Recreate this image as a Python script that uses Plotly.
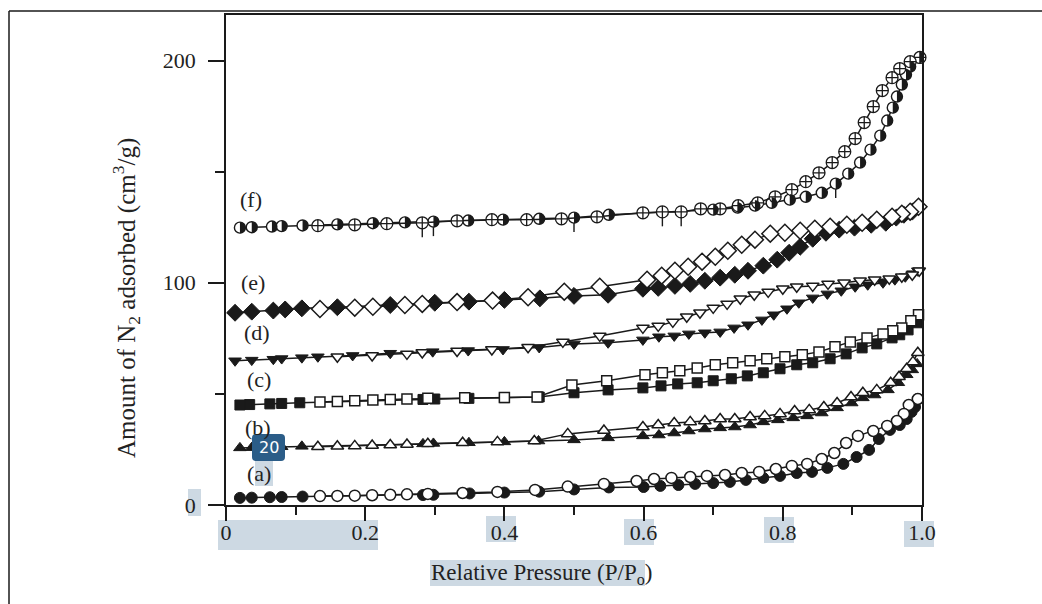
import plotly.graph_objects as go

# ---------------- data ----------------
a_ads_x = [0.02, 0.037, 0.063, 0.08, 0.11, 0.283, 0.298, 0.35, 0.40, 0.45, 0.50, 0.55, 0.60, 0.624, 0.65, 0.674, 0.70, 0.724, 0.747, 0.772, 0.796, 0.82, 0.842, 0.864, 0.887, 0.906, 0.924, 0.938, 0.954, 0.968, 0.978, 0.985, 0.99, 0.994]
a_ads_y = [3.2, 3.3, 3.5, 3.6, 3.8, 4.5, 4.6, 5.2, 5.6, 6.0, 7.0, 7.9, 8.1, 8.6, 9.0, 9.5, 9.9, 10.4, 11.3, 12.2, 13.1, 14.4, 14.9, 16.7, 18.5, 21.6, 24.8, 29.7, 33.8, 36.0, 38.7, 41.9, 44.1, 47.7]
a_des_x = [0.994, 0.981, 0.974, 0.964, 0.95, 0.93, 0.908, 0.891, 0.874, 0.856, 0.835, 0.813, 0.79, 0.766, 0.741, 0.717, 0.691, 0.667, 0.64, 0.615, 0.59, 0.543, 0.491, 0.444, 0.39, 0.34, 0.29, 0.26, 0.236, 0.21, 0.185, 0.16, 0.135]
a_des_y = [47.7, 45.0, 41.0, 37.8, 35.6, 33.3, 31.1, 27.9, 23.4, 20.7, 18.5, 17.6, 16.2, 14.9, 14.4, 13.5, 13.1, 12.6, 12.2, 11.7, 10.8, 9.5, 8.3, 6.8, 5.9, 5.4, 5.0, 4.8, 4.6, 4.4, 4.2, 4.1, 4.0]

b_ads_x = [0.02, 0.037, 0.063, 0.08, 0.109, 0.283, 0.298, 0.349, 0.40, 0.449, 0.50, 0.549, 0.599, 0.622, 0.644, 0.665, 0.688, 0.71, 0.731, 0.753, 0.772, 0.793, 0.815, 0.835, 0.856, 0.878, 0.899, 0.915, 0.932, 0.951, 0.966, 0.978, 0.986, 0.993]
b_ads_y = [25.7, 25.8, 26.0, 26.2, 26.4, 27.5, 27.7, 28.0, 28.4, 28.8, 29.3, 30.2, 31.1, 31.5, 32.4, 33.3, 34.2, 34.7, 35.1, 36.0, 37.4, 38.3, 39.2, 40.1, 41.4, 43.7, 45.9, 48.2, 49.5, 51.8, 55.0, 58.6, 60.8, 63.5]
b_des_x = [0.994, 0.987, 0.978, 0.967, 0.955, 0.935, 0.915, 0.898, 0.878, 0.859, 0.838, 0.817, 0.796, 0.774, 0.753, 0.731, 0.71, 0.688, 0.667, 0.644, 0.621, 0.599, 0.543, 0.491, 0.443, 0.39, 0.34, 0.29, 0.26, 0.236, 0.21, 0.185, 0.16, 0.132]
b_des_y = [68.5, 64.4, 61.3, 57.7, 55.0, 51.8, 50.5, 48.6, 45.9, 44.1, 42.8, 42.3, 41.0, 40.1, 39.6, 38.7, 38.7, 37.8, 37.4, 36.9, 36.0, 35.1, 33.5, 32.0, 28.8, 28.4, 28.0, 27.6, 27.2, 27.0, 26.8, 26.6, 26.4, 26.2]

c_ads_x = [0.02, 0.034, 0.063, 0.08, 0.106, 0.283, 0.30, 0.349, 0.40, 0.45, 0.50, 0.549, 0.599, 0.625, 0.649, 0.677, 0.70, 0.726, 0.749, 0.772, 0.796, 0.82, 0.843, 0.868, 0.891, 0.914, 0.935, 0.957, 0.968, 0.98, 0.993]
c_ads_y = [45.0, 45.2, 45.5, 45.7, 46.0, 47.5, 47.7, 48.0, 48.3, 48.6, 50.5, 51.8, 52.7, 53.6, 54.5, 55.0, 55.9, 56.8, 58.1, 59.5, 61.3, 63.1, 64.0, 65.8, 68.0, 70.7, 72.5, 75.2, 76.6, 78.8, 82.0]
c_des_x = [0.995, 0.984, 0.971, 0.958, 0.944, 0.921, 0.897, 0.875, 0.852, 0.828, 0.803, 0.777, 0.753, 0.728, 0.703, 0.677, 0.652, 0.627, 0.602, 0.547, 0.497, 0.447, 0.40, 0.343, 0.29, 0.26, 0.236, 0.211, 0.185, 0.16, 0.135]
c_des_y = [85.6, 82.9, 79.7, 78.4, 77.0, 75.2, 73.4, 71.2, 68.9, 67.6, 66.7, 65.8, 64.9, 64.0, 63.1, 61.7, 60.4, 59.5, 58.6, 55.9, 54.0, 48.6, 48.4, 48.3, 48.0, 47.7, 47.5, 47.2, 46.9, 46.6, 46.3]

d_ads_x = [0.013, 0.037, 0.068, 0.08, 0.109, 0.132, 0.182, 0.236, 0.297, 0.348, 0.398, 0.45, 0.50, 0.549, 0.599, 0.622, 0.644, 0.665, 0.688, 0.71, 0.73, 0.75, 0.77, 0.787, 0.806, 0.823, 0.843, 0.864, 0.884, 0.904, 0.922, 0.944, 0.961, 0.976, 0.987, 0.994]
d_ads_y = [64.9, 65.2, 65.6, 65.9, 66.3, 66.7, 67.3, 68.3, 69.0, 69.5, 70.0, 70.9, 72.5, 73.0, 74.3, 75.7, 76.1, 77.0, 77.5, 77.9, 79.7, 81.1, 83.3, 85.6, 88.3, 91.0, 93.2, 95.0, 96.4, 98.2, 99.1, 100.0, 101.4, 102.7, 104.1, 105.4]
d_des_x = [0.996, 0.986, 0.971, 0.953, 0.932, 0.911, 0.888, 0.865, 0.843, 0.82, 0.80, 0.779, 0.759, 0.739, 0.72, 0.70, 0.681, 0.662, 0.642, 0.621, 0.599, 0.537, 0.484, 0.434, 0.382, 0.332, 0.282, 0.26, 0.21, 0.16]
d_des_y = [105.4, 103.6, 102.7, 101.8, 101.4, 100.9, 100.0, 99.5, 98.6, 98.2, 97.3, 95.9, 94.6, 92.8, 90.5, 88.7, 86.5, 84.7, 82.4, 80.6, 79.7, 76.1, 73.4, 71.0, 70.0, 69.3, 68.6, 68.0, 67.3, 66.7]

e_ads_x = [0.013, 0.037, 0.068, 0.085, 0.109, 0.16, 0.236, 0.30, 0.349, 0.40, 0.451, 0.50, 0.549, 0.599, 0.621, 0.645, 0.667, 0.688, 0.71, 0.731, 0.75, 0.772, 0.792, 0.809, 0.825, 0.843, 0.862, 0.881, 0.903, 0.927, 0.948, 0.963, 0.974, 0.986]
e_ads_y = [86.5, 87.0, 87.5, 88.0, 88.5, 89.0, 90.0, 91.0, 91.5, 92.3, 93.0, 94.1, 94.6, 97.3, 97.7, 98.6, 99.5, 100.9, 102.3, 103.6, 105.4, 107.7, 110.4, 113.5, 116.2, 119.8, 122.5, 123.9, 124.8, 126.1, 127.0, 129.3, 130.6, 132.0]
e_des_x = [0.995, 0.983, 0.971, 0.957, 0.935, 0.914, 0.892, 0.868, 0.846, 0.825, 0.803, 0.782, 0.76, 0.741, 0.721, 0.703, 0.684, 0.664, 0.645, 0.626, 0.605, 0.537, 0.486, 0.434, 0.383, 0.332, 0.282, 0.257, 0.211, 0.185, 0.135]
e_des_y = [134.2, 132.0, 131.1, 129.7, 128.4, 127.0, 126.1, 125.2, 124.3, 123.4, 122.5, 122.1, 119.4, 117.1, 114.4, 111.7, 109.5, 107.2, 105.4, 103.2, 101.4, 98.2, 96.0, 93.5, 92.0, 91.3, 90.5, 90.0, 89.2, 88.8, 88.2]

f_ads_x = [0.02, 0.037, 0.066, 0.08, 0.11, 0.16, 0.211, 0.257, 0.298, 0.348, 0.398, 0.45, 0.50, 0.55, 0.70, 0.735, 0.76, 0.784, 0.81, 0.833, 0.856, 0.876, 0.894, 0.911, 0.926, 0.94, 0.95, 0.958, 0.964, 0.971, 0.977, 0.983, 0.997]
f_ads_y = [124.8, 125.0, 125.3, 125.5, 125.8, 126.3, 126.8, 127.2, 127.5, 128.0, 128.4, 128.8, 129.3, 130.6, 132.9, 133.8, 134.7, 136.0, 137.4, 138.7, 140.5, 144.6, 149.1, 154.1, 159.9, 166.2, 173.0, 178.8, 183.8, 189.2, 193.7, 197.3, 201.4]
f_des_x = [0.997, 0.983, 0.968, 0.957, 0.943, 0.93, 0.917, 0.904, 0.889, 0.871, 0.852, 0.833, 0.813, 0.789, 0.764, 0.736, 0.71, 0.682, 0.654, 0.627, 0.599, 0.533, 0.482, 0.432, 0.382, 0.332, 0.282, 0.231, 0.185, 0.132]
f_des_y = [201.4, 199.5, 196.4, 192.3, 186.5, 179.3, 172.1, 164.9, 159.0, 154.1, 149.5, 145.5, 141.9, 138.7, 136.0, 134.7, 133.3, 133.3, 131.9, 131.9, 131.5, 129.7, 128.8, 128.4, 128.4, 127.9, 127.0, 126.6, 126.1, 125.7]
f_ads_stem_x = [0.298, 0.50, 0.876]
f_des_stem_x = [0.282, 0.627, 0.654]

series_labels = ["(a)", "(b)", "(c)", "(d)", "(e)", "(f)"]
label_x = [0.047, 0.046, 0.047, 0.045, 0.039, 0.036]
label_y = [14.4, 34.7, 56.3, 77.5, 100.0, 137.4]

x_tick_vals = [0, 0.2, 0.4, 0.6, 0.8, 1.0]
x_tick_text = ["0", "0.2", "0.4", "0.6", "0.8", "1.0"]
x_minor_vals = [0.1, 0.3, 0.5, 0.7, 0.9]
y_tick_vals = [0, 100, 200]
y_tick_text = ["0", "100", "200"]
y_minor_vals = [50, 150]

# ---------------- layout geometry ----------------
W, H = 1042, 604
L, R, T, B = 226, 922, 15, 505
INK = "#1a1a1a"
TXT = "#222222"
SERIF = "Liberation Serif"
STEM = 6.5
HALF_R = 5.5


def paper(px, py):
    return (px - L) / (R - L), (B - py) / (B - T)


fig = go.Figure()

plain = [
    (a_ads_x, a_ads_y, a_des_x, a_des_y, "circle", 11),
    (b_ads_x, b_ads_y, b_des_x, b_des_y, "triangle-up", 11),
    (c_ads_x, c_ads_y, c_des_x, c_des_y, "square", 10),
    (d_ads_x, d_ads_y, d_des_x, d_des_y, "triangle-down", 11),
    (e_ads_x, e_ads_y, e_des_x, e_des_y, "diamond", 13),
]
for ax, ay, dx, dy, sym, size in plain:
    fig.add_trace(go.Scatter(
        x=ax, y=ay, mode="lines+markers", cliponaxis=False,
        line=dict(color=INK, width=1.5),
        marker=dict(symbol=sym, size=size, color=INK, line=dict(color=INK, width=1))))
    fig.add_trace(go.Scatter(
        x=dx, y=dy, mode="lines+markers", cliponaxis=False,
        line=dict(color=INK, width=1.5),
        marker=dict(symbol=sym, size=size, color="white", line=dict(color=INK, width=1.5))))

# series (f): half-filled circles (adsorption) and crossed circles (desorption)
f_ads_minus = [STEM if x in f_ads_stem_x else 0 for x in f_ads_x]
f_des_minus = [STEM if x in f_des_stem_x else 0 for x in f_des_x]
fig.add_trace(go.Scatter(
    x=f_ads_x, y=f_ads_y, mode="lines+markers", cliponaxis=False,
    line=dict(color=INK, width=1.5),
    marker=dict(symbol="circle", size=11, color="white", line=dict(color=INK, width=1.4)),
    error_y=dict(type="data", symmetric=False, array=[0] * len(f_ads_x),
                 arrayminus=f_ads_minus, width=0, thickness=1.4, color=INK)))
fig.add_trace(go.Scatter(
    x=f_des_x, y=f_des_y, mode="lines+markers", cliponaxis=False,
    line=dict(color=INK, width=1.5),
    marker=dict(symbol="circle-cross", size=12, color="white", line=dict(color=INK, width=1.3)),
    error_y=dict(type="data", symmetric=False, array=[0] * len(f_des_x),
                 arrayminus=f_des_minus, width=0, thickness=1.4, color=INK)))

shapes = []
# right black half of the (f) adsorption markers, anchored at each data point
r = HALF_R
k = 0.5523 * r
half_path = (f"M 0,{r} C {k},{r} {r},{k} {r},0 C {r},{-k} {k},{-r} 0,{-r} Z")
for x, y in zip(f_ads_x, f_ads_y):
    shapes.append(dict(type="path", xref="x", yref="y", xsizemode="pixel", ysizemode="pixel",
                       xanchor=x, yanchor=y, path=half_path, layer="above",
                       fillcolor=INK, line=dict(width=0)))

# ---------------- frames and highlights ----------------
x0, y0 = paper(9, 11)
x1, _ = paper(1042, 11)
_, y2 = paper(9, 604)
shapes.append(dict(type="line", xref="paper", yref="paper", x0=x0, y0=y0, x1=x1, y1=y0,
                   line=dict(color=INK, width=1.5)))
shapes.append(dict(type="line", xref="paper", yref="paper", x0=x0, y0=y0, x1=x0, y1=y2,
                   line=dict(color=INK, width=1.5)))

HL = "#cdd9e3"
highlight_boxes = [
    (188, 489, 201, 516),   # y tick 0
    (218, 520, 378, 550),   # x ticks 0 and 0.2
    (486, 516, 516, 542),   # 0.4
    (624, 519, 654, 545),   # 0.6
    (764, 517, 794, 543),   # 0.8
    (904, 521, 934, 547),   # 1.0
    (430, 560, 645, 586),   # x title
    (255, 461, 273, 486),   # (a)
]
for bx0, by0, bx1, by1 in highlight_boxes:
    px0, py0 = paper(bx0, by1)
    px1, py1 = paper(bx1, by0)
    shapes.append(dict(type="rect", xref="paper", yref="paper", layer="below",
                       x0=px0, y0=py0, x1=px1, y1=py1, fillcolor=HL, line=dict(width=0)))

# badge "20" (rounded rect)
bx0, by0, bx1, by1, rr = 252, 434, 285, 461, 4


def P(x, y):
    u, v = paper(x, y)
    return f"{u:.5f},{v:.5f}"


path = (f"M {P(bx0+rr, by0)} L {P(bx1-rr, by0)} Q {P(bx1, by0)} {P(bx1, by0+rr)} "
        f"L {P(bx1, by1-rr)} Q {P(bx1, by1)} {P(bx1-rr, by1)} "
        f"L {P(bx0+rr, by1)} Q {P(bx0, by1)} {P(bx0, by1-rr)} "
        f"L {P(bx0, by0+rr)} Q {P(bx0, by0)} {P(bx0+rr, by0)} Z")
shapes.append(dict(type="path", xref="paper", yref="paper", path=path, layer="above",
                   fillcolor="#2b5d88", line=dict(width=0)))

# ---------------- annotations ----------------
ann = []
for lab, lx, ly in zip(series_labels, label_x, label_y):
    ann.append(dict(x=lx, y=ly, xref="x", yref="y", text=lab, showarrow=False,
                    font=dict(family=SERIF, size=22, color=TXT), xanchor="center", yanchor="middle"))

tx, ty = paper(126, 298)
ann.append(dict(x=tx, y=ty, xref="paper", yref="paper",
                text="Amount of N<sub>2</sub> adsorbed (cm<sup>3</sup>/g)", textangle=-90,
                showarrow=False, font=dict(family=SERIF, size=25, color=TXT),
                xanchor="center", yanchor="middle"))
tx, ty = paper(541, 574)
ann.append(dict(x=tx, y=ty, xref="paper", yref="paper",
                text="Relative Pressure (P/P<sub>o</sub>)",
                showarrow=False, font=dict(family=SERIF, size=23, color=TXT),
                xanchor="center", yanchor="middle"))
tx, ty = paper(268.5, 447.5)
ann.append(dict(x=tx, y=ty, xref="paper", yref="paper", text="20", showarrow=False,
                font=dict(family="DejaVu Sans", size=16, color="white"),
                xanchor="center", yanchor="middle"))

fig.update_layout(
    width=W, height=H,
    margin=dict(l=L, r=W - R, t=T, b=H - B, pad=0),
    paper_bgcolor="white", plot_bgcolor="white",
    showlegend=False,
    shapes=shapes, annotations=ann,
    xaxis=dict(range=[0, 1], showline=True, linecolor=INK, linewidth=1.6, mirror=True,
               showgrid=False, zeroline=False,
               ticks="outside", tickvals=x_tick_vals, ticktext=x_tick_text,
               ticklen=14, tickwidth=1.6, tickcolor=INK, ticklabelstandoff=-7,
               tickfont=dict(family=SERIF, size=22, color=TXT),
               minor=dict(tickvals=x_minor_vals, ticks="outside", ticklen=8,
                          tickwidth=1.5, tickcolor=INK, showgrid=False)),
    yaxis=dict(range=[0, 220.5], showline=True, linecolor=INK, linewidth=1.6, mirror=True,
               showgrid=False, zeroline=False,
               ticks="outside", tickvals=y_tick_vals, ticktext=y_tick_text,
               ticklen=16, tickwidth=1.6, tickcolor=INK, ticklabelstandoff=8,
               tickfont=dict(family=SERIF, size=22, color=TXT),
               minor=dict(tickvals=y_minor_vals, ticks="outside", ticklen=9,
                          tickwidth=1.5, tickcolor=INK, showgrid=False)),
)

fig.write_html("out.html")
